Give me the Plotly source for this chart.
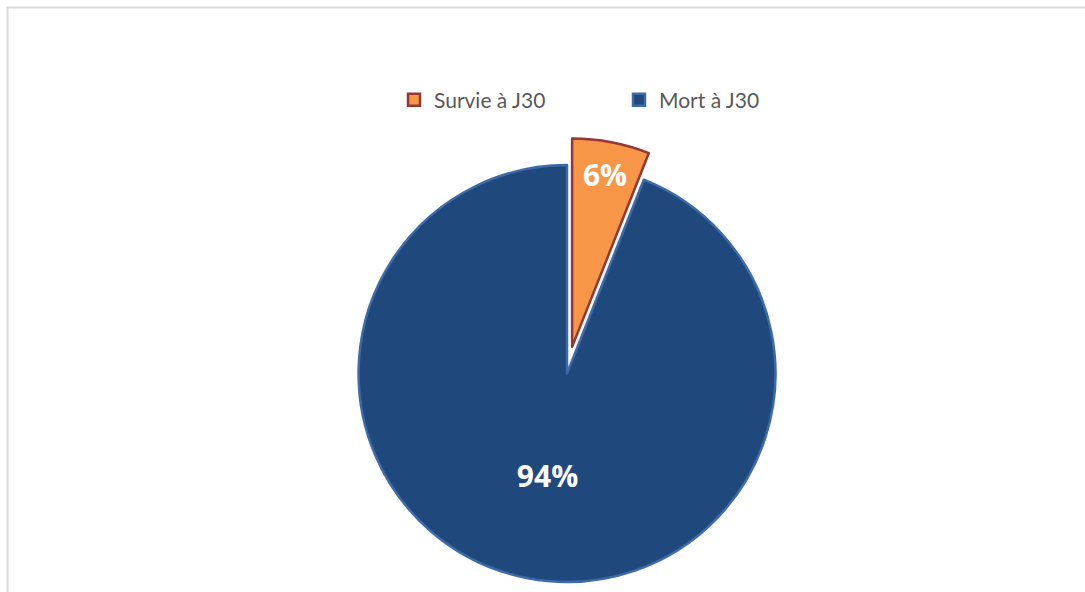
import plotly.graph_objects as go

labels = ["Survie à J30", "Mort à J30"]
values = [6, 94]
colors = ["#F79646", "#1F497D"]
line_colors = ["#953735", "#3E6BA8"]
pulls = [0.13, 0]

W, H = 1085, 620

fig = go.Figure(go.Pie(
    labels=labels,
    values=values,
    sort=False,
    direction="clockwise",
    rotation=0,
    pull=pulls,
    marker=dict(colors=colors, line=dict(color=line_colors, width=2.5)),
    textinfo="percent",
    texttemplate="%{percent:.0%}",
    textposition="inside",
    insidetextorientation="horizontal",
    insidetextfont=dict(color="white", size=30, family="Open Sans", weight="bold"),
    domain=dict(x=[0.3055, 0.7397], y=[0.0176, 0.7776]),
    hoverinfo="label+percent",
))

fig.update_layout(
    width=W, height=H,
    margin=dict(l=0, r=0, t=0, b=0),
    paper_bgcolor="white",
    plot_bgcolor="white",
    showlegend=True,
    legend=dict(
        orientation="h",
        x=394 / W, xanchor="left",
        y=1 - 100 / H, yanchor="middle",
        font=dict(family="Lato", size=21, color="#595959"),
        entrywidth=180, entrywidthmode="pixels",
        bgcolor="rgba(0,0,0,0)",
    ),
    uniformtext=dict(minsize=26, mode="show"),
    shapes=[dict(
        type="rect", xref="paper", yref="paper",
        x0=7.5 / W, x1=1.05, y0=-0.1, y1=1 - 7.5 / H,
        line=dict(color="#D9D9D9", width=2), fillcolor="rgba(0,0,0,0)",
        layer="below",
    )],
)

fig.write_html(
    "out.html",
    config={"displayModeBar": False},
    post_script="document.body.style.overflow='hidden';document.documentElement.style.overflow='hidden';document.body.style.margin='0';",
)
